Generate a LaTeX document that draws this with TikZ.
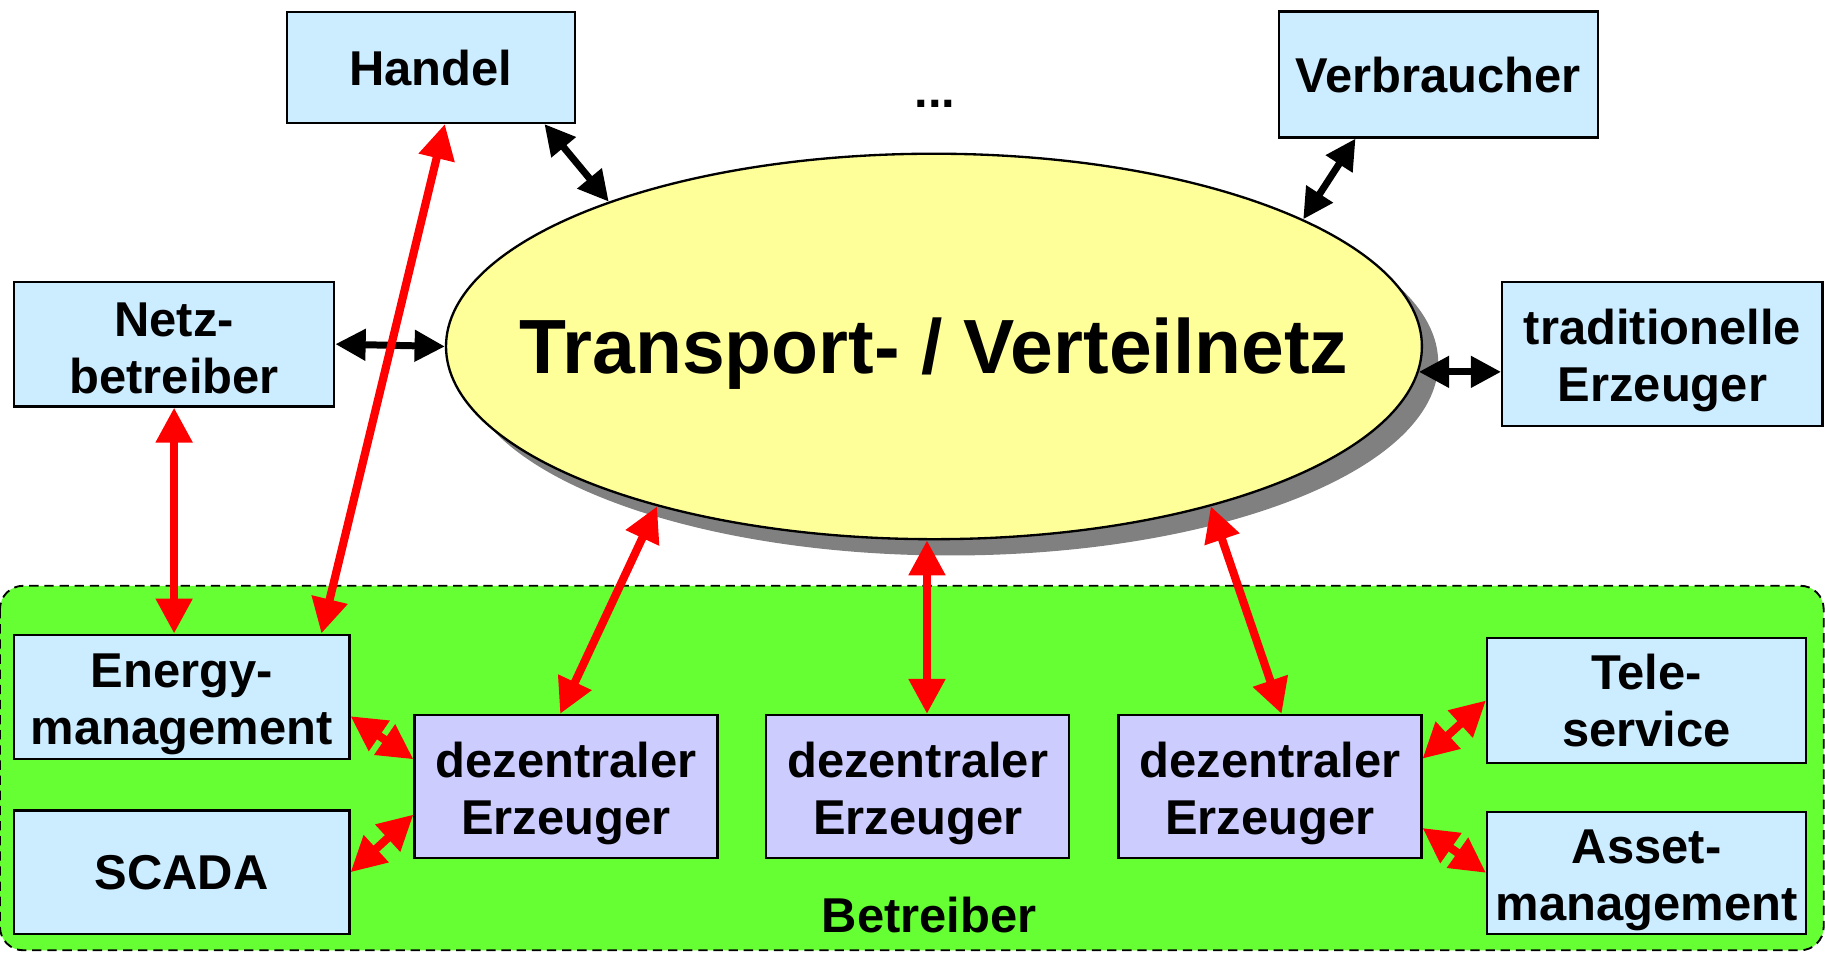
\documentclass[tikz,border=0pt]{standalone}
\usepackage{fontspec}
\setmainfont{Liberation Sans}
\usetikzlibrary{shapes,shadows,arrows.meta}

\definecolor{boxblau}{HTML}{CCECFF}
\definecolor{dezblau}{HTML}{CCCCFF}
\definecolor{netzgelb}{HTML}{FFFF99}
\definecolor{betrgruen}{HTML}{66FF33}
\newcommand{\oben}[1]{\rule{0pt}{#1}}

\begin{document}
\begin{tikzpicture}[x=0.5pt,y=-0.5pt]
    \tikzstyle{every node}=[font=\bfseries\fontsize{21}{24.5}\selectfont]
    \tikzstyle{kasten}=[rectangle,draw,line width=1pt,fill=boxblau,align=center,inner sep=0pt]
    \tikzstyle{dez}=[kasten,fill=dezblau,minimum width=130pt,minimum height=61.5pt]
    \tikzstyle{schwarz}=[line width=3pt,{Triangle[length=13pt,width=13pt]}-{Triangle[length=13pt,width=13pt]}]
    \tikzstyle{rot}=[red,line width=3.5pt,{Triangle[length=15pt,width=15pt]}-{Triangle[length=15pt,width=15pt]}]
    \useasboundingbox (0,0) rectangle (1568,818);
    % Betreiber-Bereich
    \draw[fill=betrgruen,dashed,line width=0.8pt,dash pattern=on 4pt off 2.5pt,rounded corners=10pt]
      (0,503) rectangle (1566,816);
    \node (betr) at (798,786) {Betreiber};
    % Netz
    \node[ellipse,draw,line width=1pt,fill=netzgelb,inner sep=0pt,
      minimum width=419pt,minimum height=165.5pt,
      general shadow={fill=gray,shadow xshift=7pt,shadow yshift=-7pt},
      font=\bfseries\fontsize{33}{36}\selectfont] (netz) at (802,297.5)
      {\raisebox{-11.5pt}[0pt][0pt]{\makebox[0pt]{Transport- / Verteilnetz}}};
    % obere Teilnehmer
    \node[kasten,minimum width=123.5pt,minimum height=47.5pt] (handel) at (370,58) {Handel};
    \node (punkte) at (803,89) {...};
    \node[kasten,minimum width=137pt,minimum height=54pt] (verbr) at (1235,64) {Verbraucher};
    \node[kasten,minimum width=137.5pt,minimum height=53.5pt] (netzbetr) at (149.5,295.5) {\oben{18pt}Netz-\\betreiber};
    \node[kasten,minimum width=137.5pt,minimum height=62pt] (tradi) at (1427.5,304) {\oben{21pt}traditionelle\\Erzeuger};
    % Betreiber
    \node[kasten,minimum width=144pt,minimum height=53.5pt] (energy) at (156,598.5) {\oben{21pt}Energy-\\management};
    \node[kasten,minimum width=144pt,minimum height=53pt] (scada) at (156,749) {SCADA};
    \node[dez] (dez1) at (486,675.5) {\oben{21pt}dezentraler\\Erzeuger};
    \node[dez] (dez2) at (788,675.5) {\oben{21pt}dezentraler\\Erzeuger};
    \node[dez] (dez3) at (1090.5,675.5) {\oben{21pt}dezentraler\\Erzeuger};
    \node[kasten,minimum width=137pt,minimum height=53.5pt] (tele) at (1414,601.5) {Tele-\\service};
    \node[kasten,minimum width=137pt,minimum height=52.5pt] (asset) at (1414,749.5) {\oben{21pt}Asset-\\management};
    % Verbindungen
    \draw[schwarz] ([xshift=-13.5pt]handel.south east) -- (netz.156);
    \draw[schwarz] ([xshift=33.5pt]verbr.south west) -- (netz.19);
    \draw[schwarz] (netzbetr.east) -- (netz.west);
    \draw[schwarz] (netz.-3) -- (netz.-3 -| tradi.west);
    \draw[rot] (netzbetr.south) -- (netzbetr.south |- energy.north);
    \draw[rot] ([xshift=6pt]handel.south) -- ([xshift=-12.5pt]energy.north east);
    \draw[rot] (netz.210) -- ([xshift=-2.5pt]dez1.north);
    \draw[rot] ([xshift=4pt]dez2.north |- netz.south) -- ([xshift=4pt]dez2.north);
    \draw[rot] (netz.-30) -- ([xshift=5pt]dez3.north);
    \draw[rot] ([yshift=-8.25pt]energy.east) -- ([yshift=11.75pt]dez1.west);
    \draw[rot] (scada.east) -- ([yshift=-12pt]dez1.west);
    \draw[rot] ([yshift=12pt]dez3.east) -- (tele.west);
    \draw[rot] ([yshift=-17.75pt]dez3.east) -- (asset.west);
\end{tikzpicture}
\end{document}
